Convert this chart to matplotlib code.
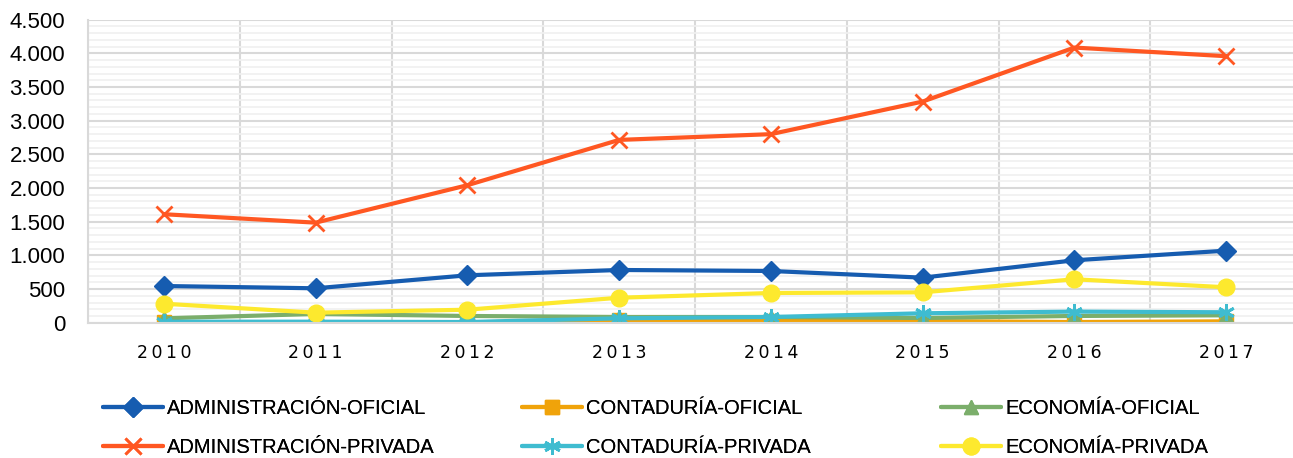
import matplotlib.pyplot as plt
from matplotlib.ticker import MultipleLocator, FuncFormatter

years = ["2010", "2011", "2012", "2013", "2014", "2015", "2016", "2017"]

admin_oficial = [545, 511, 704, 783, 768, 669, 927, 1070]
contaduria_oficial = [10, 5, 5, 35, 25, 25, 10, 20]
economia_oficial = [65, 130, 100, 85, 85, 70, 100, 110]
admin_privada = [1611, 1486, 2042, 2715, 2800, 3284, 4086, 3958]
contaduria_privada = [15, 15, 10, 65, 85, 140, 165, 155]
economia_privada = [282, 149, 193, 371, 441, 451, 645, 526]

series = [
    ("ADMINISTRACIÓN-OFICIAL", admin_oficial, "#165CB0", "D", 10),
    ("CONTADURÍA-OFICIAL", contaduria_oficial, "#F0A30A", "s", 10),
    ("ECONOMÍA-OFICIAL", economia_oficial, "#7BAE6B", "^", 10),
    ("ADMINISTRACIÓN-PRIVADA", admin_privada, "#FF5722", "x", 12),
    ("CONTADURÍA-PRIVADA", contaduria_privada, "#3FBCD0", (6, 2, 0), 12),
    ("ECONOMÍA-PRIVADA", economia_privada, "#FDE92E", "o", 12),
]

plt.rcParams["font.family"] = ["Liberation Sans", "DejaVu Sans"]

fig = plt.figure(figsize=(12.93, 4.58), dpi=100)
ax = fig.add_axes([88 / 1293, (458 - 322.7) / 458, 1214 / 1293, 303 / 458])

x = range(len(years))
handles = []
for label, vals, color, marker, ms in series:
    mew = 2 if marker in ("x", (6, 2, 0)) else 1
    (h,) = ax.plot(x, vals, color=color, lw=3, marker=marker, markersize=ms,
                   markeredgewidth=mew, label=label, solid_capstyle="round")
    handles.append(h)

ax.set_xlim(-0.5, len(years) - 0.5)
ax.set_ylim(0, 4500)
ax.yaxis.set_major_locator(MultipleLocator(500))
ax.yaxis.set_minor_locator(MultipleLocator(100))
ax.yaxis.set_major_formatter(FuncFormatter(lambda v, p: f"{int(v):,}".replace(",", ".")))
ax.set_xticks(list(x))
ax.set_xticklabels(["\u2009".join(y) for y in years], family="DejaVu Sans", fontsize=12.5)
ax.xaxis.set_minor_locator(MultipleLocator(1, offset=0.5))

ax.grid(True, which="major", axis="y", color="#d9d9d9", lw=1.5)
ax.grid(True, which="minor", axis="y", color="#f0f0f0", lw=1.2)
ax.grid(True, which="minor", axis="x", color="#d9d9d9", lw=1.5)
ax.set_axisbelow(True)
ax.tick_params(which="both", length=0)
ax.tick_params(axis="y", labelsize=16, pad=16.5)
ax.tick_params(axis="x", pad=15)
for s in ["top", "right"]:
    ax.spines[s].set_visible(False)
ax.spines["left"].set_color("#d9d9d9")
ax.spines["left"].set_linewidth(1.5)
ax.spines["bottom"].set_color("#d9d9d9")
ax.spines["bottom"].set_linewidth(1.5)

# three legend columns with fixed positions
col_x = [103 / 1293, 522 / 1293, 941 / 1293]
for i, cx in enumerate(col_x):
    hs = [handles[i], handles[i + 3]]
    leg = fig.legend(handles=hs, loc="upper left", bbox_to_anchor=(cx, 1 - 399 / 458),
                     frameon=False, fontsize=14.5, handlelength=3, handletextpad=0.2,
                     labelspacing=1.0, borderpad=0, borderaxespad=0)
    fig.add_artist(leg)

fig.savefig("out.png", dpi=100)
